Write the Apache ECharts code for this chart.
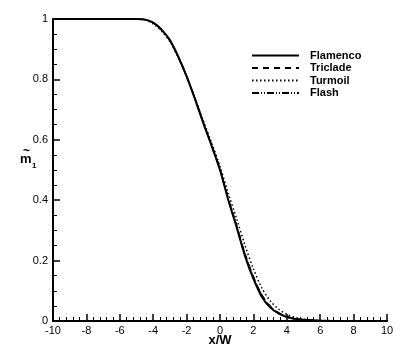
<!DOCTYPE html>
<html><head><meta charset="utf-8">
<script src="https://cdn.jsdelivr.net/npm/echarts@6/dist/echarts.min.js"></script>
<style>html,body{margin:0;padding:0;background:#fff}#c{width:407px;height:362px}</style>
</head><body><div id="c"></div>
<script>
var xs = [-10, -8, -6, -5, -4.5, -4, -3.5, -3, -2.5, -2, -1.5, -1, -0.5, 0, 0.5, 1, 1.5, 2, 2.5, 3, 3.5, 4, 4.5, 5, 6, 7, 8, 10];
var flamenco = [1, 1, 1, 1, 0.998, 0.988, 0.965, 0.93, 0.875, 0.81, 0.735, 0.655, 0.58, 0.50, 0.40, 0.31, 0.215, 0.14, 0.08, 0.045, 0.025, 0.013, 0.007, 0.004, 0.001, 0, 0, 0];
var triclade = [1, 1, 1, 1, 0.998, 0.987, 0.964, 0.929, 0.875, 0.81, 0.737, 0.658, 0.582, 0.502, 0.405, 0.316, 0.223, 0.147, 0.087, 0.05, 0.028, 0.015, 0.008, 0.004, 0.001, 0, 0, 0];
var turmoil = [1, 1, 1, 1, 0.997, 0.984, 0.96, 0.925, 0.873, 0.81, 0.738, 0.663, 0.59, 0.512, 0.422, 0.338, 0.25, 0.173, 0.11, 0.067, 0.04, 0.022, 0.012, 0.006, 0.002, 0.001, 0, 0];
var flash = [1, 1, 1, 1, 0.998, 0.988, 0.965, 0.93, 0.876, 0.811, 0.737, 0.657, 0.581, 0.501, 0.403, 0.314, 0.22, 0.145, 0.085, 0.048, 0.027, 0.014, 0.007, 0.004, 0.001, 0, 0, 0];
var xTicks = [-10, -8, -6, -4, -2, 0, 2, 4, 6, 8, 10];
var yTicks = [0, 0.2, 0.4, 0.6, 0.8, 1];

function pairs(v){ return xs.map(function(x,i){ return [x, v[i]]; }); }
var FONT = 'Liberation Sans, Arial, Helvetica, sans-serif';
var chart = echarts.init(document.getElementById('c'));
var axisCommon = {
  axisLine: {show: true, onZero: false, lineStyle: {color: '#000', width: 2}},
  axisTick: {show: true, inside: true, length: 7, lineStyle: {color: '#000', width: 1.5}},
  minorTick: {show: true, length: 4, lineStyle: {color: '#000', width: 1}},
  splitLine: {show: false},
  minorSplitLine: {show: false},
  axisLabel: {color: '#000', fontFamily: FONT, fontSize: 11}
};
function mk(name, data, type, width){
  return {name: name, type: 'line', data: pairs(data), smooth: 0.3, symbol: 'none',
    itemStyle: {color: '#000'},
    lineStyle: {color: '#000', width: width, type: type}, z: 3};
}
chart.setOption({
  animation: false,
  grid: {left: 53, right: 20, top: 19, bottom: 41},
  xAxis: Object.assign({}, axisCommon, {
    type: 'value', min: xTicks[0], max: xTicks[xTicks.length-1], interval: 2,
    minorTick: Object.assign({}, axisCommon.minorTick, {splitNumber: 5}),
    axisLabel: Object.assign({}, axisCommon.axisLabel, {margin: 4}),
    name: 'x/W', nameLocation: 'middle', nameGap: 19, nameMoveOverlap: false,
    nameTextStyle: {fontFamily: FONT, fontSize: 13, fontWeight: 'bold', color: '#000', verticalAlign: 'middle'}
  }),
  yAxis: Object.assign({}, axisCommon, {
    type: 'value', min: yTicks[0], max: yTicks[yTicks.length-1], interval: 0.2,
    minorTick: Object.assign({}, axisCommon.minorTick, {splitNumber: 4}),
    axisLabel: Object.assign({}, axisCommon.axisLabel, {margin: 5})
  }),
  legend: {
    orient: 'vertical', left: 246, top: 45, itemWidth: 47, itemHeight: 10, itemGap: 1.5,
    itemStyle: {opacity: 0},
    textStyle: {fontFamily: FONT, fontSize: 11, fontWeight: 'bold', color: '#000', padding: [0,0,0,6], lineHeight: 10},
    data: ['Flamenco', 'Triclade', 'Turmoil', 'Flash']
  },
  graphic: [
    {type: 'text', left: 23, top: 146, style: {text: '~', font: 'bold 12px ' + FONT, fill: '#000'}},
    {type: 'text', left: 20, top: 153, style: {text: 'm', font: 'bold 13px ' + FONT, fill: '#000'}},
    {type: 'text', left: 32, top: 162, style: {text: '1', font: 'bold 8px ' + FONT, fill: '#000'}}
  ],
  series: [
    mk('Flamenco', flamenco, 'solid', 2),
    mk('Triclade', triclade, [6, 5], 1.5),
    mk('Turmoil', turmoil, [1.5, 2.5], 1.5),
    mk('Flash', flash, [7, 2, 1, 2, 1, 2], 1.5)
  ]
});
</script></body></html>
